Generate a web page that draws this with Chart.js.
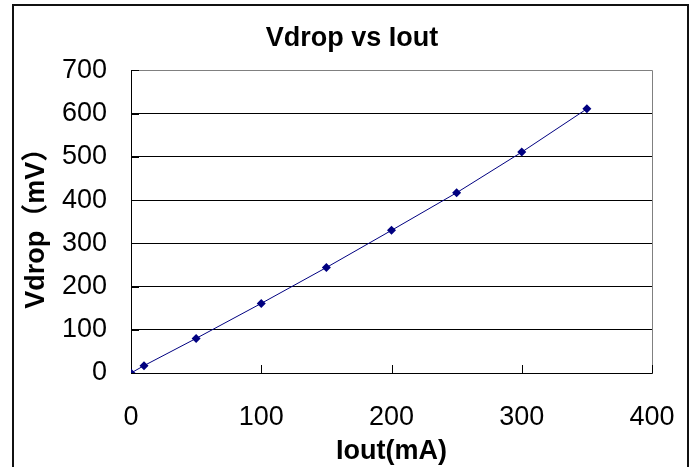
<!DOCTYPE html>
<html>
<head>
<meta charset="utf-8">
<script src="https://cdn.jsdelivr.net/npm/chart.js@4"></script>
<style>
html,body{margin:0;padding:0;background:#fff;}
#wrap{position:relative;width:697px;height:467px;}
</style>
</head>
<body>
<div id="wrap"><canvas id="c" width="697" height="467"></canvas></div>
<script>
const currents = [0, 10, 50, 100, 150, 200, 250, 300, 350];
const vdrop = [0, 17, 80, 161, 244, 330, 417, 511, 611];
const xTicks = [0, 100, 200, 300, 400];
const yTicks = [0, 100, 200, 300, 400, 500, 600, 700];
const titleText = 'Vdrop vs Iout';
const xTitle = 'Iout(mA)';
const yTitle = 'Vdrop（mV）';

const FONT = "'Liberation Sans', Arial, 'Noto Sans CJK SC', sans-serif";

const decor = {
  id: 'decor',
  beforeDraw(chart) {
    const ctx = chart.ctx;
    ctx.save();
    ctx.fillStyle = '#fff';
    ctx.fillRect(0, 0, chart.width, chart.height);
    ctx.strokeStyle = '#111';
    ctx.lineWidth = 2;
    ctx.strokeRect(13, 5, 675, 520);
    ctx.restore();
  },
  beforeDatasetsDraw(chart) {
    const ctx = chart.ctx;
    const a = chart.chartArea;
    const xs = chart.scales.x, ys = chart.scales.y;
    ctx.save();
    ctx.strokeStyle = '#808080';
    ctx.lineWidth = 1;
    ctx.beginPath();
    ctx.moveTo(Math.round(a.left) + 0.5, Math.round(a.top) + 0.5);
    ctx.lineTo(Math.round(a.right) + 0.5, Math.round(a.top) + 0.5);
    ctx.lineTo(Math.round(a.right) + 0.5, Math.round(a.bottom) + 0.5);
    ctx.stroke();
    ctx.strokeStyle = '#000';
    ctx.beginPath();
    xTicks.forEach(v => {
      const px = Math.round(xs.getPixelForValue(v)) + 0.5;
      ctx.moveTo(px, a.bottom);
      ctx.lineTo(px, a.bottom - 8);
    });
    yTicks.forEach(v => {
      const py = Math.round(ys.getPixelForValue(v)) + 0.5;
      ctx.moveTo(a.left, py);
      ctx.lineTo(a.left + 8, py);
    });
    ctx.stroke();
    ctx.restore();
  }
};

new Chart(document.getElementById('c'), {
  type: 'line',
  data: {
    datasets: [{
      data: currents.map((x, i) => ({x: x, y: vdrop[i]})),
      borderColor: '#000080',
      backgroundColor: '#000080',
      borderWidth: 1,
      pointStyle: 'rectRot',
      pointRadius: 4.5,
      pointBorderWidth: 0,
      tension: 0,
      fill: false
    }]
  },
  options: {
    responsive: false,
    animation: false,
    devicePixelRatio: 1,
    layout: {padding: {left: 7, right: 0, top: 0, bottom: 0}},
    plugins: {
      legend: {display: false},
      tooltip: {enabled: false},
      title: {
        display: true,
        text: titleText,
        color: '#000',
        font: {family: FONT, size: 27, weight: 'bold', lineHeight: 1.2},
        padding: {top: 22, bottom: 16}
      }
    },
    scales: {
      x: {
        type: 'linear',
        min: 0, max: 400,
        afterBuildTicks: s => { s.ticks = xTicks.map(v => ({value: v})); },
        ticks: {color: '#000', padding: 28, font: {family: FONT, size: 27}},
        grid: {display: true, drawOnChartArea: false, drawTicks: false},
        border: {display: true, color: '#000', width: 1},
        title: {display: true, text: xTitle, color: '#000', padding: {top: 0, bottom: 2},
                font: {family: FONT, size: 27, weight: 'bold', lineHeight: 1.0}},
        afterFit: s => { s.height = 94; s.paddingLeft = 0; s.paddingRight = 0; }
      },
      y: {
        type: 'linear',
        min: 0, max: 700,
        afterBuildTicks: s => { s.ticks = yTicks.map(v => ({value: v})); },
        ticks: {color: '#000', padding: 24, font: {family: FONT, size: 27}},
        grid: {color: '#000', lineWidth: 1, drawTicks: false},
        border: {display: true, color: '#000', width: 1},
        title: {display: true, text: yTitle, color: '#000', padding: {top: 13, bottom: 0},
                font: {family: FONT, size: 27, weight: 'bold', lineHeight: 1.2}},
        afterFit: s => { s.width = 124; }
      },
      yr: {
        type: 'linear',
        position: 'right',
        display: true,
        ticks: {display: false},
        grid: {display: false, drawOnChartArea: false, drawTicks: false},
        border: {display: false},
        afterFit: s => { s.width = 45; s.paddingTop = 0; s.paddingBottom = 0; }
      }
    }
  },
  plugins: [decor]
});
</script>
</body>
</html>
